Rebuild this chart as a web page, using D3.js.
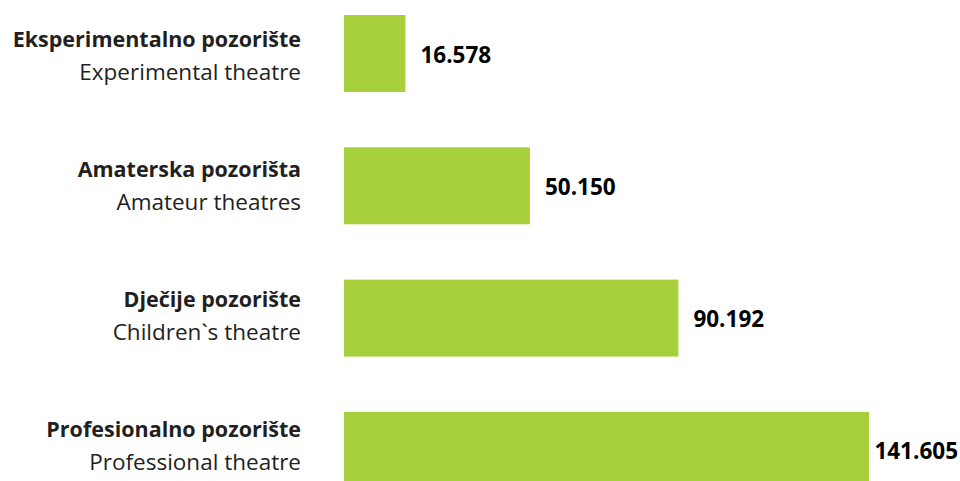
<!DOCTYPE html>
<html>
<head>
<meta charset="utf-8">
<script src="https://cdn.jsdelivr.net/npm/d3@7"></script>
<style>
  body { margin: 0; background: #fff; }
  svg { display: block; }
</style>
</head>
<body>
<svg id="svg"></svg>
<script>
// chart data
const labelsLocal = ["Eksperimentalno pozorište", "Amaterska pozorišta", "Dječije pozorište", "Profesionalno pozorište"];
const labelsEnglish = ["Experimental theatre", "Amateur theatres", "Children`s theatre", "Professional theatre"];
const values = [16.578, 50.150, 90.192, 141.605];
const valueText = ["16.578", "50.150", "90.192", "141.605"];

const dims = { width: 960, height: 481 };
const barLeft = 344;
const barRightMax = 869;

let xScale = d3.scaleLinear()
    .domain([0, 141.605])
    .range([barLeft, barRightMax]);

// bands: step ~132px, bar height ~77px, last bar runs off the bottom
let yScale = d3.scaleBand()
    .domain(d3.range(values.length))
    .range([15 - 27.65, 15 - 27.65 + 132.3 * 4])
    .paddingInner(55.3 / 132.3)
    .paddingOuter(27.65 / 132.3);

// category labels sit on a slightly tighter step than the bars
let labelScale = d3.scalePoint()
    .domain(d3.range(values.length))
    .range([47, 437]);

let mySvg = d3.select('#svg')
    .attr('width', dims.width)
    .attr('height', dims.height);

const fontFam = "'Open Sans', sans-serif";

let rows = mySvg.selectAll('g.row')
    .data(values)
    .enter().append('g')
    .attr('class', 'row');

rows.append('rect')
    .attr('x', xScale(0))
    .attr('y', (d, i) => yScale(i))
    .attr('width', d => xScale(d) - xScale(0))
    .attr('height', yScale.bandwidth())
    .attr('fill', '#a8cf3c');

let mid = (i) => yScale(i) + yScale.bandwidth() / 2;

rows.append('text')
    .attr('x', 301)
    .attr('y', (d, i) => labelScale(i))
    .attr('text-anchor', 'end')
    .attr('font-family', fontFam)
    .attr('font-weight', 'bold')
    .attr('font-size', 21.5)
    .attr('fill', '#231f20')
    .text((d, i) => labelsLocal[i]);

rows.append('text')
    .attr('x', 301)
    .attr('y', (d, i) => labelScale(i) + 33)
    .attr('text-anchor', 'end')
    .attr('font-family', fontFam)
    .attr('font-size', 22.5)
    .attr('fill', '#231f20')
    .text((d, i) => labelsEnglish[i]);

rows.append('text')
    .attr('y', (d, i) => mid(i) + 9)
    .attr('font-family', fontFam)
    .attr('font-weight', 'bold')
    .attr('font-size', 22.5)
    .attr('fill', '#000')
    .text((d, i) => valueText[i])
    .attr('x', function(d) {
        let w = this.getComputedTextLength();
        return Math.min(xScale(d) + 15, dims.width - 2 - w);
    });
</script>
</body>
</html>
